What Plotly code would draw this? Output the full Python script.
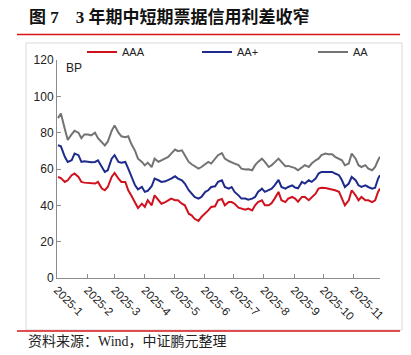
import plotly.graph_objects as go

dates = [
    "2025-01-02", "2025-01-05", "2025-01-09", "2025-01-12", "2025-01-16", "2025-01-19", "2025-01-23", "2025-01-26", "2025-01-29", "2025-02-02",
    "2025-02-05", "2025-02-09", "2025-02-12", "2025-02-16", "2025-02-19", "2025-02-22", "2025-02-26", "2025-03-01", "2025-03-05", "2025-03-08",
    "2025-03-12", "2025-03-15", "2025-03-18", "2025-03-22", "2025-03-25", "2025-03-29", "2025-04-01", "2025-04-04", "2025-04-08", "2025-04-11",
    "2025-04-15", "2025-04-18", "2025-04-22", "2025-04-25", "2025-04-28", "2025-05-02", "2025-05-05", "2025-05-09", "2025-05-12", "2025-05-16",
    "2025-05-19", "2025-05-22", "2025-05-26", "2025-05-29", "2025-06-02", "2025-06-05", "2025-06-08", "2025-06-12", "2025-06-15", "2025-06-19",
    "2025-06-22", "2025-06-26", "2025-06-29", "2025-07-02", "2025-07-06", "2025-07-09", "2025-07-13", "2025-07-16", "2025-07-20", "2025-07-23",
    "2025-07-26", "2025-07-30", "2025-08-02", "2025-08-06", "2025-08-09", "2025-08-12", "2025-08-16", "2025-08-19", "2025-08-23", "2025-08-26",
    "2025-08-30", "2025-09-02", "2025-09-05", "2025-09-09", "2025-09-12", "2025-09-16", "2025-09-19", "2025-09-23", "2025-09-26", "2025-09-29",
    "2025-10-03", "2025-10-06", "2025-10-10", "2025-10-13", "2025-10-17", "2025-10-20", "2025-10-23", "2025-10-27", "2025-10-30", "2025-11-03",
    "2025-11-06", "2025-11-09", "2025-11-13", "2025-11-16", "2025-11-20", "2025-11-23", "2025-11-26", "2025-11-28",
]

aaa = [
    55.6, 55.0, 52.9, 53.8, 56.6, 57.5, 55.6, 52.9, 52.5, 52.3,
    52.3, 52.0, 52.9, 49.2, 48.3, 50.1, 55.6, 57.8, 54.7, 52.9,
    52.9, 48.3, 45.5, 41.0, 38.5, 40.9, 39.1, 42.8, 40.0, 45.5,
    42.8, 40.9, 41.8, 42.8, 43.7, 42.8, 42.8, 40.9, 40.0, 35.4,
    34.5, 32.6, 31.4, 33.6, 35.4, 37.2, 39.1, 39.5, 42.8, 43.5,
    40.0, 41.8, 41.8, 40.9, 38.7, 38.2, 37.6, 38.2, 37.2, 40.0,
    41.8, 42.8, 40.0, 40.0, 41.3, 43.7, 47.4, 42.8, 41.8, 43.7,
    44.6, 43.7, 42.0, 44.6, 44.6, 42.8, 44.6, 46.4, 49.2, 49.7,
    49.5, 49.2, 48.6, 48.3, 47.4, 43.7, 40.0, 42.8, 48.3, 45.5,
    42.8, 44.6, 42.8, 42.8, 41.8, 42.8, 47.4, 49.2,
]

aa_plus = [
    73.1, 72.5, 66.7, 63.9, 64.8, 68.5, 67.6, 63.9, 64.3, 63.9,
    63.7, 63.9, 64.8, 61.1, 58.4, 59.3, 65.7, 67.6, 63.9, 63.4,
    63.9, 60.2, 56.0, 51.0, 48.8, 50.1, 47.4, 48.0, 50.5, 54.7,
    53.8, 52.9, 53.2, 53.8, 54.7, 56.0, 54.7, 53.8, 52.0, 48.3,
    46.4, 44.6, 43.7, 44.6, 47.4, 48.3, 50.1, 50.5, 52.9, 53.8,
    50.1, 49.2, 50.1, 47.4, 45.5, 43.7, 43.7, 43.1, 43.7, 44.6,
    47.4, 49.2, 47.4, 48.3, 49.2, 51.0, 54.0, 50.1, 49.2, 50.1,
    51.0, 49.8, 49.4, 52.9, 52.0, 53.8, 52.9, 54.7, 57.5, 58.4,
    58.4, 58.4, 58.4, 57.5, 56.6, 53.8, 50.1, 52.0, 55.6, 53.8,
    51.0, 50.1, 51.0, 50.1, 49.2, 49.7, 54.7, 56.6,
]

aa = [
    88.0, 90.5, 82.0, 76.0, 79.0, 81.0, 80.0, 77.0, 79.0, 79.0,
    78.5, 80.0, 77.0, 75.0, 73.0, 75.0, 81.0, 84.0, 80.0, 78.0,
    77.5, 78.0, 74.0, 70.0, 65.7, 63.9, 62.0, 63.5, 61.0, 65.7,
    64.0, 64.8, 65.7, 66.7, 68.5, 70.7, 69.8, 70.3, 67.6, 63.9,
    62.6, 61.5, 60.2, 61.1, 63.0, 63.9, 63.0, 65.7, 67.6, 68.8,
    65.7, 64.4, 63.9, 63.0, 62.1, 60.2, 59.7, 59.9, 59.3, 62.1,
    63.9, 65.7, 63.9, 61.1, 62.1, 63.9, 65.7, 63.9, 61.5, 61.7,
    61.1, 60.5, 59.3, 61.1, 62.1, 61.1, 63.0, 64.8, 65.7, 67.6,
    68.5, 68.1, 68.1, 66.7, 65.7, 64.8, 62.1, 63.0, 68.5, 65.7,
    62.1, 61.1, 62.1, 60.2, 59.3, 61.1, 64.8, 66.7,
]

series_names = ["AAA", "AA+", "AA"]
series_colors = ["#D0121E", "#1F2B8C", "#737373"]

month_ticks = ["2025-01-01", "2025-02-01", "2025-03-01", "2025-04-01", "2025-05-01", "2025-06-01",
               "2025-07-01", "2025-08-01", "2025-09-01", "2025-10-01", "2025-11-01"]
month_labels = ["2025-1", "2025-2", "2025-3", "2025-4", "2025-5", "2025-6",
                "2025-7", "2025-8", "2025-9", "2025-10", "2025-11"]

title_text = "图 7&nbsp;&nbsp;&nbsp; 3 年期中短期票据信用利差收窄"
source_text = "资料来源：Wind，中证鹏元整理"
unit_text = "BP"

# The page body has an 8px default margin; the figure is sized to fit the
# 411x355 window and everything below is placed in window pixels.
OFF = 8
W, H = 411 - OFF, 355 - OFF
ML, MR, MT, MB = 49, 31, 52, 77
PW, PH = W - ML - MR, H - MT - MB


def px(x):
    return (x - OFF - ML) / PW


def py(y):
    return (H - MB - (y - OFF)) / PH


legend_ids = ["legend", "legend2", "legend3"]
legend_x = [82, 197, 313]

fig = go.Figure()
for name, vals, col, lid in zip(series_names, [aaa, aa_plus, aa], series_colors, legend_ids):
    fig.add_trace(go.Scatter(x=dates, y=vals, mode="lines", name=name, legend=lid,
                             line=dict(color=col, width=2)))

axis_col = "#8C8C8C"
layout_legends = {}
for lid, lx in zip(legend_ids, legend_x):
    layout_legends[lid] = dict(xref="container", yref="container",
                               x=(lx - OFF) / W, xanchor="left", y=1 - (52 - OFF) / H, yanchor="middle",
                               font=dict(size=11, color="#222"), bgcolor="rgba(0,0,0,0)",
                               itemwidth=30, borderwidth=0)

fig.update_layout(
    width=W, height=H,
    margin=dict(l=ML, r=MR, t=MT, b=MB, autoexpand=False),
    paper_bgcolor="white", plot_bgcolor="white",
    font=dict(family="Liberation Sans, Arial, sans-serif", size=12, color="#222"),
    showlegend=True,
    xaxis=dict(type="date", range=["2025-01-01", "2025-11-28"],
               tickvals=month_ticks, ticktext=month_labels, tickangle=45,
               ticks="inside", ticklen=4, tickcolor=axis_col,
               showline=True, linecolor=axis_col, linewidth=1,
               showgrid=False, zeroline=False,
               tickfont=dict(size=11.5, color="#222")),
    yaxis=dict(range=[0, 120], dtick=20, tick0=0,
               ticks="inside", ticklen=4, tickcolor=axis_col,
               showline=True, linecolor=axis_col, linewidth=1,
               showgrid=False, zeroline=False,
               tickfont=dict(size=12, color="#222")),
    **layout_legends,
)

# frame, rules
fig.add_shape(type="rect", xref="paper", yref="paper",
              x0=px(26), x1=px(402), y0=py(330), y1=py(43),
              line=dict(color="#D9D9D9", width=1), layer="below")
fig.add_shape(type="line", xref="paper", yref="paper",
              x0=px(17), x1=px(400), y0=py(34.5), y1=py(34.5),
              line=dict(color="#D7141A", width=1.5))
fig.add_shape(type="line", xref="paper", yref="paper",
              x0=px(17), x1=px(400), y0=py(331), y1=py(331),
              line=dict(color="#D7141A", width=1.5))

fig.add_annotation(text="<b>" + title_text + "</b>", xref="paper", yref="paper",
                   x=px(27), y=py(17), xanchor="left", yanchor="middle", showarrow=False,
                   font=dict(family="Liberation Serif, Noto Sans CJK SC, serif", size=17, color="#111"))
fig.add_annotation(text=source_text, xref="paper", yref="paper",
                   x=px(26), y=py(341), xanchor="left", yanchor="middle", showarrow=False,
                   font=dict(family="Liberation Serif, Noto Sans CJK SC, serif", size=14, color="#222"))
fig.add_annotation(text=unit_text, xref="paper", yref="paper",
                   x=px(64), y=py(68), xanchor="left", yanchor="middle", showarrow=False,
                   font=dict(size=12, color="#222"))

fig.write_html("out.html")
